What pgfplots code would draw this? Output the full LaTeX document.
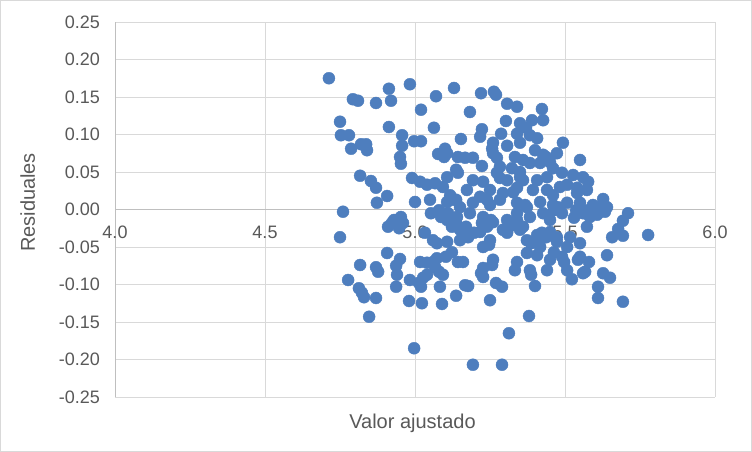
\documentclass[border=0pt]{standalone}
\usepackage{fontspec}
\setmainfont{Liberation Sans}
\usepackage{pgfplots}
\usepackage{pgfplotstable}
\pgfplotsset{compat=1.18}

\definecolor{txt}{HTML}{595959}
\definecolor{grd}{HTML}{D9D9D9}
\definecolor{axl}{HTML}{BFBFBF}
\definecolor{ptc}{HTML}{4E7EBE}

% residuales vs valor ajustado
\pgfplotstableread{
x y
4.713 0.175
4.793 0.147
4.810 0.145
4.870 0.142
4.913 0.161
4.920 0.145
4.983 0.167
5.070 0.151
5.130 0.162
5.020 0.133
5.220 0.155
5.263 0.157
5.270 0.153
5.307 0.141
5.340 0.137
5.423 0.134
5.183 0.130
5.303 0.118
5.350 0.115
5.390 0.119
5.427 0.119
5.223 0.107
5.370 0.109
4.750 0.117
4.913 0.110
5.063 0.109
4.753 0.099
4.780 0.099
4.957 0.099
4.820 0.087
4.837 0.087
4.840 0.079
4.787 0.081
4.957 0.085
4.997 0.091
5.020 0.091
4.950 0.070
4.953 0.061
5.077 0.074
5.100 0.081
5.097 0.070
5.143 0.070
5.153 0.094
5.217 0.097
5.287 0.101
5.340 0.101
5.407 0.095
5.307 0.085
5.260 0.089
5.350 0.089
5.493 0.089
5.193 0.069
5.257 0.081
5.273 0.069
5.333 0.070
5.400 0.079
5.473 0.075
5.437 0.070
5.223 0.058
5.137 0.053
5.283 0.057
5.360 0.066
5.550 0.066
5.417 0.062
5.460 0.055
5.383 0.099
5.427 0.073
5.383 0.062
5.450 0.063
5.323 0.055
5.260 0.075
5.107 0.075
5.167 0.069
4.817 0.045
4.853 0.038
4.870 0.029
4.907 0.018
4.873 0.009
4.990 0.042
5.017 0.037
5.040 0.033
5.067 0.035
5.050 0.013
5.000 0.010
5.107 0.043
5.143 0.049
5.193 0.039
5.227 0.037
5.273 0.049
5.307 0.039
5.350 0.043
5.407 0.039
5.440 0.043
5.490 0.049
5.527 0.046
5.560 0.043
5.093 0.030
5.173 0.026
5.250 0.026
5.293 0.022
5.340 0.029
5.393 0.026
5.440 0.026
5.483 0.030
5.540 0.029
5.573 0.026
5.117 0.019
5.217 0.017
5.107 0.010
5.150 0.003
5.193 0.009
5.250 0.006
5.283 0.013
5.340 0.009
5.373 0.003
5.417 0.010
5.460 0.006
5.507 0.009
5.550 0.009
5.577 0.037
5.507 0.033
5.540 0.022
5.627 0.014
5.593 0.006
5.610 0.002
5.350 0.050
5.283 0.042
5.360 0.039
5.127 0.013
5.327 0.023
5.240 0.013
5.460 0.019
5.367 0.006
5.577 -0.001
5.137 0.013
4.760 -0.003
4.750 -0.037
4.910 -0.023
4.930 -0.014
4.953 -0.010
4.960 -0.018
4.923 -0.018
4.947 -0.025
5.033 -0.031
5.060 -0.041
5.073 -0.045
5.053 -0.005
5.080 -0.001
5.087 -0.010
5.110 -0.005
5.123 -0.023
5.137 -0.018
5.150 -0.027
5.170 -0.023
5.177 -0.037
5.197 -0.031
5.217 -0.030
5.223 -0.018
5.240 -0.023
5.253 -0.014
5.293 -0.027
5.307 -0.031
5.327 -0.021
5.340 -0.014
5.373 -0.041
5.387 -0.045
5.423 -0.031
5.437 -0.037
5.450 -0.030
5.463 -0.001
5.477 0.003
5.490 -0.005
5.537 -0.001
5.560 -0.005
5.587 -0.003
5.607 -0.007
5.633 -0.003
5.640 0.003
5.530 -0.011
5.573 -0.023
5.140 -0.010
5.183 -0.005
5.227 -0.010
5.260 -0.017
5.307 -0.014
5.340 -0.005
5.383 -0.010
5.427 -0.005
5.450 -0.014
5.350 -0.027
5.407 -0.034
5.473 -0.037
5.517 -0.037
5.107 -0.043
5.150 -0.041
5.227 -0.050
5.250 -0.041
5.417 -0.050
5.507 -0.050
5.550 -0.045
5.627 -0.001
5.583 -0.010
5.710 -0.005
5.693 -0.015
5.677 -0.026
5.657 -0.037
5.693 -0.035
5.777 -0.034
5.107 -0.014
5.360 -0.023
5.417 -0.041
5.473 -0.043
4.907 -0.058
4.817 -0.074
4.777 -0.094
4.870 -0.077
4.877 -0.083
4.950 -0.066
4.937 -0.075
4.940 -0.087
4.983 -0.094
5.013 -0.098
5.020 -0.103
5.027 -0.091
5.040 -0.087
5.017 -0.070
5.040 -0.071
5.060 -0.070
5.073 -0.065
5.067 -0.077
5.080 -0.083
5.093 -0.087
5.103 -0.063
5.123 -0.057
5.143 -0.070
5.160 -0.070
5.220 -0.085
5.227 -0.078
5.257 -0.074
5.270 -0.098
5.290 -0.103
5.260 -0.067
5.247 -0.047
5.340 -0.070
5.407 -0.061
5.450 -0.067
5.550 -0.063
5.333 -0.081
5.383 -0.081
5.440 -0.081
5.507 -0.081
5.560 -0.085
5.373 -0.058
5.463 -0.057
5.490 -0.063
5.497 -0.070
5.523 -0.093
5.543 -0.067
5.580 -0.070
5.567 -0.083
5.640 -0.061
5.627 -0.085
5.650 -0.091
5.227 -0.090
5.167 -0.101
5.400 -0.102
5.387 -0.087
5.083 -0.103
5.610 -0.103
4.823 -0.111
4.830 -0.117
4.813 -0.105
4.870 -0.118
4.847 -0.143
4.937 -0.103
4.980 -0.122
4.997 -0.185
5.023 -0.125
5.090 -0.126
5.137 -0.115
5.177 -0.102
5.250 -0.121
5.193 -0.207
5.290 -0.207
5.313 -0.165
5.380 -0.142
5.610 -0.118
5.693 -0.123
}\residuos

\begin{document}
\begin{tikzpicture}
\draw[grd, line width=1pt, fill=white] (0.5pt,0.5pt) rectangle (751.5pt,451.5pt);
\begin{axis}[
    at={(115pt,55pt)}, anchor=south west,
    scale only axis, width=600pt, height=375pt,
    xmin=4, xmax=6, ymin=-0.25, ymax=0.25,
    axis x line=middle, axis y line=left,
    axis line style={draw=axl, line width=0.75pt, -},
    xtick={4,4.5,5,5.5,6},
    xticklabels={4.0,4.5,5.0,5.5,6.0},
    ytick={-0.25,-0.2,-0.15,-0.1,-0.05,0,0.05,0.1,0.15,0.2,0.25},
    yticklabels={-0.25,-0.20,-0.15,-0.10,-0.05,0.00,0.05,0.10,0.15,0.20,0.25},
    hide obscured x ticks=false, hide obscured y ticks=false,
    major tick length=0pt,
    grid=major, grid style={draw=grd, line width=0.75pt},
    ticklabel style={font=\fontsize{18}{21}\selectfont, text=txt, inner sep=0pt},
    xticklabel style={anchor=base, yshift=-29.5pt},
    yticklabel style={anchor=east, xshift=-15pt},
]
    \addplot[only marks, mark=*, mark size=6pt,
        mark options={draw=ptc, fill=ptc}] table[x=x, y=y] {\residuos};
\end{axis}
\node[font=\fontsize{20}{24}\selectfont, text=txt, anchor=base] at (412.5pt,23pt) {Valor ajustado};
\node[font=\fontsize{20}{24}\selectfont, text=txt, rotate=90, anchor=base] at (35pt,249.5pt) {Residuales};
\end{tikzpicture}
\end{document}
